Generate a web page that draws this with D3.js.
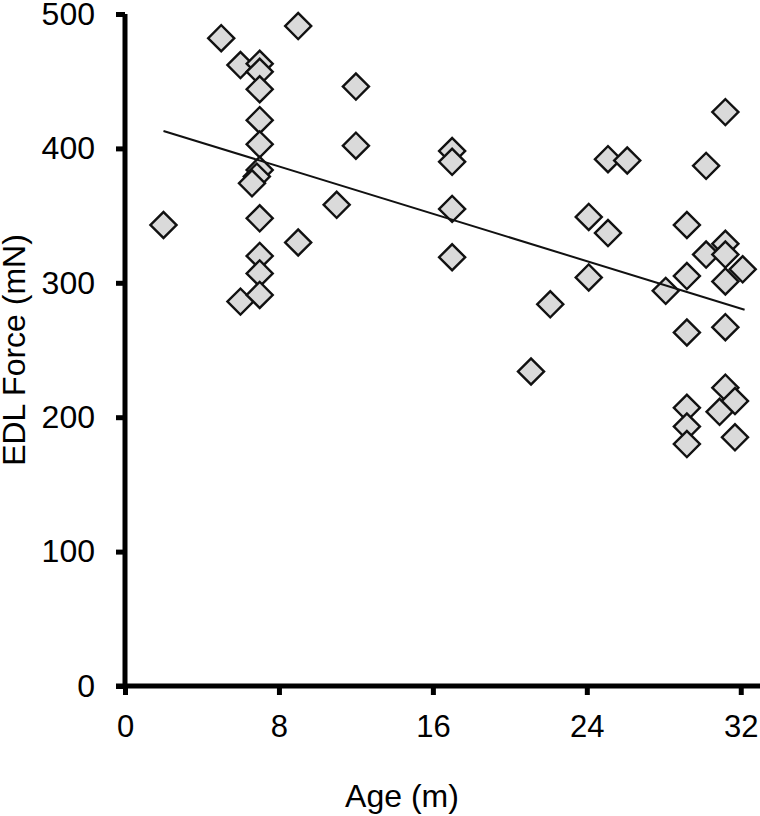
<!DOCTYPE html>
<html>
<head>
<meta charset="utf-8">
<script src="https://cdn.jsdelivr.net/npm/d3@7"></script>
<style>
  body { margin: 0; background: #fff; }
  svg text { font-family: "Liberation Sans", Arial, sans-serif; fill: #000; }
</style>
</head>
<body>
<svg id="chart" width="760" height="816"></svg>
<script>
// Age (months) and EDL force (mN)
const ages = [
  2, 5, 6, 6, 7, 7, 7, 7, 7, 7, 6.85, 6.6, 7, 7, 7, 7,
  9, 9, 11, 12, 12, 17, 17, 17, 17,
  21.1, 22.1, 24.1, 24.1, 25.1, 25.1, 26.1, 28.1,
  29.2, 29.2, 29.2, 29.2, 29.2, 29.2, 30.2, 30.2, 30.9,
  31.2, 31.2, 31.2, 31.2, 31.2, 31.2, 31.7, 31.7, 32.1
];
const forces = [
  343, 482, 462, 286, 463, 457, 444, 421, 403, 384, 379, 374, 348, 320, 307, 291,
  491, 330, 358, 446, 402, 398, 390, 355, 319,
  234, 284, 349, 304, 392, 337, 391, 294,
  343, 305, 263, 207, 193, 180, 387, 321, 204,
  427, 329, 321, 301, 267, 222, 212, 185, 310
];

// regression line end points
const trendX = [2, 32.2];
const trendY = [413, 280];

const xTicks = [0, 8, 16, 24, 32];
const yTicks = [0, 100, 200, 300, 400, 500];

const svg = d3.select('#chart');

const x = d3.scaleLinear().domain([0, 33]).range([125, 760]);
const y = d3.scaleLinear().domain([0, 500]).range([686, 14]);

// Points
const points = ages.map((a, i) => ({ age: a, force: forces[i] }));
const diamond = d3.symbol().type(d3.symbolSquare).size(340);

svg.append('g')
  .selectAll('path')
  .data(points)
  .join('path')
  .attr('d', diamond)
  .attr('transform', d => `translate(${x(d.age)},${y(d.force)}) rotate(45)`)
  .attr('fill', '#dadada')
  .attr('stroke', '#111')
  .attr('stroke-width', 2.4);

// Trend line
svg.append('path')
  .datum(trendX.map((v, i) => [v, trendY[i]]))
  .attr('fill', 'none')
  .attr('stroke', '#111')
  .attr('stroke-width', 2)
  .attr('d', d3.line().x(d => x(d[0])).y(d => y(d[1])));

// Axes
const xAxis = svg.append('g')
  .attr('transform', `translate(0,${y(0)})`)
  .call(d3.axisBottom(x).tickValues(xTicks).tickSize(9).tickPadding(20).tickSizeOuter(0));

const yAxis = svg.append('g')
  .attr('transform', `translate(${x(0)},0)`)
  .call(d3.axisLeft(y).tickValues(yTicks).tickSize(9).tickPadding(21).tickSizeOuter(0));

[xAxis, yAxis].forEach(a => {
  a.select('.domain').attr('stroke', '#000').attr('stroke-width', 5);
  a.selectAll('.tick line').attr('stroke', '#000').attr('stroke-width', 5);
  a.selectAll('.tick text')
    .attr('font-family', '"Liberation Sans", Arial, sans-serif')
    .attr('fill', '#000');
});
xAxis.selectAll('.tick text').attr('font-size', 31);
yAxis.selectAll('.tick text').attr('font-size', 32);

// stretch x domain to overlap the y axis like the original
xAxis.select('.domain').attr('d', `M${x(0) - 9},0H760`);
yAxis.select('.domain').attr('d', `M0,${y(500)}V${y(0) + 2}`);

// Axis titles
svg.append('text')
  .attr('x', 402)
  .attr('y', 807)
  .attr('text-anchor', 'middle')
  .attr('font-size', 32)
  .text('Age (m)');

svg.append('text')
  .attr('transform', 'translate(25,350) rotate(-90)')
  .attr('text-anchor', 'middle')
  .attr('font-size', 32)
  .text('EDL Force (mN)');
</script>
</body>
</html>
